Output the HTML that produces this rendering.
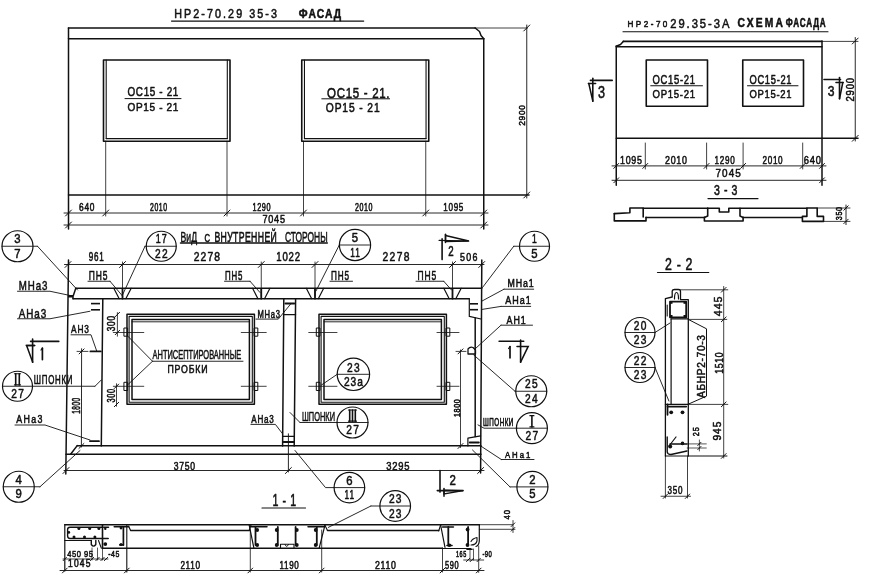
<!DOCTYPE html>
<html><head><meta charset="utf-8"><style>
html,body{margin:0;padding:0;background:#fff;}
body{width:872px;height:577px;overflow:hidden;}
svg{display:block;filter:grayscale(1);}
text{font-family:"Liberation Sans",sans-serif;fill:#111;}
</style></head><body>
<svg width="872" height="577" viewBox="0 0 872 577" stroke-linecap="round" stroke-linejoin="round">
<text transform="translate(174.20,18.30) scale(0.850,1)" x="0" y="0" font-size="12.64" textLength="120.94" lengthAdjust="spacing" font-weight="normal" stroke="#111" stroke-width="0.5" vector-effect="non-scaling-stroke">НР2-70.29 35-3</text>
<text transform="translate(298.80,18.30) scale(0.817,1)" x="0" y="0" font-size="12.64" textLength="51.89" lengthAdjust="spacing" font-weight="bold" stroke="#111" stroke-width="0.5" vector-effect="non-scaling-stroke">ФАСАД</text>
<polyline points="171.50,21.10 363.70,21.10" fill="none" stroke="#111" stroke-width="1.2"/>
<polyline points="68.50,28.00 475.00,28.00" fill="none" stroke="#111" stroke-width="1.6"/>
<polyline points="475.00,28.00 527.50,28.00" fill="none" stroke="#111" stroke-width="0.8"/>
<polyline points="475.20,28.00 479.50,31.50 481.00,35.50 483.75,38.75" fill="none" stroke="#111" stroke-width="1.5"/>
<polyline points="68.50,38.75 483.75,38.75" fill="none" stroke="#111" stroke-width="1.5"/>
<polyline points="68.50,28.00 68.50,229.00" fill="none" stroke="#111" stroke-width="1.5"/>
<polyline points="483.75,38.75 483.75,229.00" fill="none" stroke="#111" stroke-width="1.5"/>
<polyline points="68.50,195.00 529.00,195.00" fill="none" stroke="#111" stroke-width="1.5"/>
<polyline points="526.75,25.00 526.75,198.00" fill="none" stroke="#111" stroke-width="0.9"/>
<polyline points="523.75,31.00 529.75,25.00" fill="none" stroke="#111" stroke-width="1.0"/>
<polyline points="523.75,198.00 529.75,192.00" fill="none" stroke="#111" stroke-width="1.0"/>
<text transform="translate(524.80,125.80) rotate(-90) scale(0.866,1)" x="0" y="0" font-size="9.72" textLength="24.03" lengthAdjust="spacing" font-weight="normal" stroke="#111" stroke-width="0.5" vector-effect="non-scaling-stroke">2900</text>
<rect x="103.50" y="60.00" width="126.50" height="81.20" fill="none" stroke="#111" stroke-width="1.6"/>
<polyline points="106.20,60.00 106.20,138.60" fill="none" stroke="#111" stroke-width="1.1"/>
<polyline points="227.30,60.00 227.30,138.60" fill="none" stroke="#111" stroke-width="1.1"/>
<polyline points="106.20,138.60 227.30,138.60" fill="none" stroke="#111" stroke-width="1.1"/>
<rect x="301.75" y="60.00" width="127.00" height="81.20" fill="none" stroke="#111" stroke-width="1.6"/>
<polyline points="304.45,60.00 304.45,138.60" fill="none" stroke="#111" stroke-width="1.1"/>
<polyline points="426.05,60.00 426.05,138.60" fill="none" stroke="#111" stroke-width="1.1"/>
<polyline points="304.45,138.60 426.05,138.60" fill="none" stroke="#111" stroke-width="1.1"/>
<text transform="translate(127.50,96.00) scale(0.794,1)" x="0" y="0" font-size="12.50" textLength="64.07" lengthAdjust="spacing" font-weight="normal" stroke="#111" stroke-width="0.5" vector-effect="non-scaling-stroke">ОС15 - 21</text>
<polyline points="125.00,98.60 181.00,98.60" fill="none" stroke="#111" stroke-width="1.0"/>
<text transform="translate(127.50,110.50) scale(0.850,1)" x="0" y="0" font-size="11.81" textLength="59.88" lengthAdjust="spacing" font-weight="normal" stroke="#111" stroke-width="0.5" vector-effect="non-scaling-stroke">ОР15 - 21</text>
<text transform="translate(327.00,97.60) scale(0.829,1)" x="0" y="0" font-size="13.89" textLength="75.48" lengthAdjust="spacing" font-weight="normal" stroke="#111" stroke-width="0.5" vector-effect="non-scaling-stroke">ОС15 - 21.</text>
<polyline points="321.80,98.80 389.60,98.80" fill="none" stroke="#111" stroke-width="1.0"/>
<text transform="translate(325.80,111.50) scale(0.850,1)" x="0" y="0" font-size="12.08" textLength="63.29" lengthAdjust="spacing" font-weight="normal" stroke="#111" stroke-width="0.5" vector-effect="non-scaling-stroke">ОР15 - 21</text>
<polyline points="105.70,141.20 105.70,216.00" fill="none" stroke="#111" stroke-width="0.8"/>
<polyline points="227.00,141.20 227.00,216.00" fill="none" stroke="#111" stroke-width="0.8"/>
<polyline points="303.50,141.20 303.50,216.00" fill="none" stroke="#111" stroke-width="0.8"/>
<polyline points="425.75,141.20 425.75,216.00" fill="none" stroke="#111" stroke-width="0.8"/>
<polyline points="64.00,213.00 488.00,213.00" fill="none" stroke="#111" stroke-width="0.9"/>
<polyline points="64.00,225.00 488.00,225.00" fill="none" stroke="#111" stroke-width="0.9"/>
<polyline points="65.50,216.00 71.50,210.00" fill="none" stroke="#111" stroke-width="1.0"/>
<polyline points="102.70,216.00 108.70,210.00" fill="none" stroke="#111" stroke-width="1.0"/>
<polyline points="224.00,216.00 230.00,210.00" fill="none" stroke="#111" stroke-width="1.0"/>
<polyline points="300.50,216.00 306.50,210.00" fill="none" stroke="#111" stroke-width="1.0"/>
<polyline points="422.75,216.00 428.75,210.00" fill="none" stroke="#111" stroke-width="1.0"/>
<polyline points="480.75,216.00 486.75,210.00" fill="none" stroke="#111" stroke-width="1.0"/>
<polyline points="65.50,228.00 71.50,222.00" fill="none" stroke="#111" stroke-width="1.0"/>
<polyline points="480.75,228.00 486.75,222.00" fill="none" stroke="#111" stroke-width="1.0"/>
<text transform="translate(79.00,210.50) scale(0.753,1)" x="0" y="0" font-size="11.11" textLength="20.60" lengthAdjust="spacing" font-weight="normal" stroke="#111" stroke-width="0.5" vector-effect="non-scaling-stroke">640</text>
<text transform="translate(150.00,210.50) scale(0.620,1)" x="0" y="0" font-size="11.11" textLength="27.42" lengthAdjust="spacing" font-weight="normal" stroke="#111" stroke-width="0.5" vector-effect="non-scaling-stroke">2010</text>
<text transform="translate(252.50,210.50) scale(0.699,1)" x="0" y="0" font-size="10.42" textLength="25.75" lengthAdjust="spacing" font-weight="normal" stroke="#111" stroke-width="0.5" vector-effect="non-scaling-stroke">1290</text>
<text transform="translate(355.00,210.50) scale(0.680,1)" x="0" y="0" font-size="10.42" textLength="25.75" lengthAdjust="spacing" font-weight="normal" stroke="#111" stroke-width="0.5" vector-effect="non-scaling-stroke">2010</text>
<text transform="translate(443.30,211.20) scale(0.728,1)" x="0" y="0" font-size="11.11" textLength="27.46" lengthAdjust="spacing" font-weight="normal" stroke="#111" stroke-width="0.5" vector-effect="non-scaling-stroke">1095</text>
<text transform="translate(262.50,223.00) scale(0.819,1)" x="0" y="0" font-size="11.11" textLength="27.46" lengthAdjust="spacing" font-weight="normal" stroke="#111" stroke-width="0.5" vector-effect="non-scaling-stroke">7045</text>
<text transform="translate(627.50,27.20) scale(0.850,1)" x="0" y="0" font-size="9.58" textLength="46.94" lengthAdjust="spacing" font-weight="normal" stroke="#111" stroke-width="0.5" vector-effect="non-scaling-stroke">НР2-70</text>
<text transform="translate(670.20,27.80) scale(0.850,1)" x="0" y="0" font-size="13.19" textLength="69.65" lengthAdjust="spacing" font-weight="normal" stroke="#111" stroke-width="0.5" vector-effect="non-scaling-stroke">29.35-3А</text>
<text transform="translate(737.60,27.20) scale(0.850,1)" x="0" y="0" font-size="12.08" textLength="53.41" lengthAdjust="spacing" font-weight="bold" stroke="#111" stroke-width="0.5" vector-effect="non-scaling-stroke">СХЕМА</text>
<text transform="translate(785.80,27.20) scale(0.673,1)" x="0" y="0" font-size="12.08" textLength="59.31" lengthAdjust="spacing" font-weight="bold" stroke="#111" stroke-width="0.5" vector-effect="non-scaling-stroke">ФАСАДА</text>
<polyline points="623.00,31.75 828.00,31.75" fill="none" stroke="#111" stroke-width="1.2"/>
<polyline points="623.30,41.40 822.00,41.40" fill="none" stroke="#111" stroke-width="1.6"/>
<polyline points="822.00,41.40 858.00,41.40" fill="none" stroke="#111" stroke-width="0.8"/>
<polyline points="623.30,41.40 620.50,44.50 616.25,46.25" fill="none" stroke="#111" stroke-width="1.5"/>
<polyline points="616.25,46.75 822.00,46.75" fill="none" stroke="#111" stroke-width="1.5"/>
<polyline points="616.25,46.00 616.25,185.30" fill="none" stroke="#111" stroke-width="1.5"/>
<polyline points="822.00,41.00 822.00,185.30" fill="none" stroke="#111" stroke-width="1.5"/>
<polyline points="616.25,138.30 858.00,138.30" fill="none" stroke="#111" stroke-width="1.5"/>
<polyline points="855.25,37.50 855.25,141.00" fill="none" stroke="#111" stroke-width="0.9"/>
<polyline points="852.25,44.00 858.25,38.00" fill="none" stroke="#111" stroke-width="1.0"/>
<polyline points="852.25,141.30 858.25,135.30" fill="none" stroke="#111" stroke-width="1.0"/>
<text transform="translate(854.00,101.50) rotate(-90) scale(0.913,1)" x="0" y="0" font-size="10.42" textLength="25.75" lengthAdjust="spacing" font-weight="normal" stroke="#111" stroke-width="0.5" vector-effect="non-scaling-stroke">2900</text>
<rect x="646.25" y="60.00" width="61.25" height="46.25" fill="none" stroke="#111" stroke-width="1.6"/>
<rect x="742.75" y="60.00" width="60.75" height="46.25" fill="none" stroke="#111" stroke-width="1.6"/>
<text transform="translate(652.50,83.75) scale(0.776,1)" x="0" y="0" font-size="12.15" textLength="54.79" lengthAdjust="spacing" font-weight="normal" stroke="#111" stroke-width="0.5" vector-effect="non-scaling-stroke">ОС15-21</text>
<polyline points="650.75,85.75 702.50,85.75" fill="none" stroke="#111" stroke-width="1.0"/>
<text transform="translate(652.50,97.50) scale(0.810,1)" x="0" y="0" font-size="11.81" textLength="52.50" lengthAdjust="spacing" font-weight="normal" stroke="#111" stroke-width="0.5" vector-effect="non-scaling-stroke">ОР15-21</text>
<text transform="translate(749.50,83.75) scale(0.767,1)" x="0" y="0" font-size="12.15" textLength="54.79" lengthAdjust="spacing" font-weight="normal" stroke="#111" stroke-width="0.5" vector-effect="non-scaling-stroke">ОС15-21</text>
<polyline points="747.50,85.75 798.00,85.75" fill="none" stroke="#111" stroke-width="1.0"/>
<text transform="translate(749.50,97.50) scale(0.800,1)" x="0" y="0" font-size="11.81" textLength="52.50" lengthAdjust="spacing" font-weight="normal" stroke="#111" stroke-width="0.5" vector-effect="non-scaling-stroke">ОР15-21</text>
<polyline points="590.40,80.40 612.20,80.40" fill="none" stroke="#111" stroke-width="1.6"/>
<polyline points="592.80,78.30 592.80,101.20" fill="none" stroke="#111" stroke-width="1.6"/>
<polyline points="588.40,83.50 595.60,83.50" fill="none" stroke="#111" stroke-width="1.6"/>
<polyline points="588.80,83.50 592.80,101.20" fill="none" stroke="#111" stroke-width="1.5"/>
<text transform="translate(598.00,98.40) scale(0.795,1)" x="0" y="0" font-size="15.83" font-weight="normal" stroke="#111" stroke-width="0.5" vector-effect="non-scaling-stroke">3</text>
<polyline points="824.00,79.50 840.50,79.50" fill="none" stroke="#111" stroke-width="1.6"/>
<polyline points="839.50,77.50 839.50,98.75" fill="none" stroke="#111" stroke-width="1.6"/>
<polyline points="836.00,82.50 843.20,82.50" fill="none" stroke="#111" stroke-width="1.6"/>
<polyline points="842.80,82.50 839.50,98.75" fill="none" stroke="#111" stroke-width="1.5"/>
<text transform="translate(827.75,96.00) scale(0.795,1)" x="0" y="0" font-size="15.28" font-weight="normal" stroke="#111" stroke-width="0.5" vector-effect="non-scaling-stroke">3</text>
<polyline points="645.30,143.00 645.30,169.00" fill="none" stroke="#111" stroke-width="0.8"/>
<polyline points="706.60,143.00 706.60,169.00" fill="none" stroke="#111" stroke-width="0.8"/>
<polyline points="743.10,143.00 743.10,169.00" fill="none" stroke="#111" stroke-width="0.8"/>
<polyline points="802.70,143.00 802.70,169.00" fill="none" stroke="#111" stroke-width="0.8"/>
<polyline points="612.00,165.90 826.00,165.90" fill="none" stroke="#111" stroke-width="0.9"/>
<polyline points="612.00,180.30 826.00,180.30" fill="none" stroke="#111" stroke-width="0.9"/>
<polyline points="613.75,168.40 618.75,163.40" fill="none" stroke="#111" stroke-width="1.0"/>
<polyline points="642.80,168.40 647.80,163.40" fill="none" stroke="#111" stroke-width="1.0"/>
<polyline points="704.10,168.40 709.10,163.40" fill="none" stroke="#111" stroke-width="1.0"/>
<polyline points="740.60,168.40 745.60,163.40" fill="none" stroke="#111" stroke-width="1.0"/>
<polyline points="800.20,168.40 805.20,163.40" fill="none" stroke="#111" stroke-width="1.0"/>
<polyline points="819.50,168.40 824.50,163.40" fill="none" stroke="#111" stroke-width="1.0"/>
<polyline points="613.75,182.80 618.75,177.80" fill="none" stroke="#111" stroke-width="1.0"/>
<polyline points="819.50,182.80 824.50,177.80" fill="none" stroke="#111" stroke-width="1.0"/>
<text transform="translate(620.00,163.50) scale(0.754,1)" x="0" y="0" font-size="11.81" textLength="29.18" lengthAdjust="spacing" font-weight="normal" stroke="#111" stroke-width="0.5" vector-effect="non-scaling-stroke">1095</text>
<text transform="translate(665.00,163.50) scale(0.754,1)" x="0" y="0" font-size="11.81" textLength="29.18" lengthAdjust="spacing" font-weight="normal" stroke="#111" stroke-width="0.5" vector-effect="non-scaling-stroke">2010</text>
<text transform="translate(714.60,163.50) scale(0.689,1)" x="0" y="0" font-size="11.81" textLength="29.18" lengthAdjust="spacing" font-weight="normal" stroke="#111" stroke-width="0.5" vector-effect="non-scaling-stroke">1290</text>
<text transform="translate(762.50,163.50) scale(0.689,1)" x="0" y="0" font-size="11.81" textLength="29.18" lengthAdjust="spacing" font-weight="normal" stroke="#111" stroke-width="0.5" vector-effect="non-scaling-stroke">2010</text>
<text transform="translate(803.70,163.50) scale(0.791,1)" x="0" y="0" font-size="11.81" textLength="21.88" lengthAdjust="spacing" font-weight="normal" stroke="#111" stroke-width="0.5" vector-effect="non-scaling-stroke">640</text>
<text transform="translate(715.60,177.00) scale(0.850,1)" x="0" y="0" font-size="11.67" textLength="29.53" lengthAdjust="spacing" font-weight="normal" stroke="#111" stroke-width="0.5" vector-effect="non-scaling-stroke">7045</text>
<text transform="translate(714.00,195.40) scale(0.750,1)" x="0" y="0" font-size="14.03" textLength="31.19" lengthAdjust="spacing" font-weight="normal" stroke="#111" stroke-width="0.5" vector-effect="non-scaling-stroke">3 - 3</text>
<polyline points="708.00,198.60 758.00,198.60" fill="none" stroke="#111" stroke-width="1.2"/>
<polyline points="614.30,213.60 629.90,212.80 629.90,208.00 643.20,208.00 643.20,216.90" fill="none" stroke="#111" stroke-width="1.6"/>
<polyline points="614.30,213.60 614.30,220.90 646.00,220.90 646.00,217.40" fill="none" stroke="#111" stroke-width="1.6"/>
<polyline points="643.20,208.20 707.70,208.20" fill="none" stroke="#111" stroke-width="1.5"/>
<polyline points="646.00,217.40 704.40,217.40" fill="none" stroke="#111" stroke-width="1.5"/>
<polyline points="704.40,217.40 704.40,221.00 743.10,221.00 743.10,217.40" fill="none" stroke="#111" stroke-width="1.6"/>
<polyline points="707.70,208.20 707.70,216.00 704.40,217.40" fill="none" stroke="#111" stroke-width="1.6"/>
<polyline points="707.70,208.20 719.30,208.20 719.30,212.00 728.80,212.00 728.80,208.20 740.00,208.20 740.00,216.00 743.10,217.40" fill="none" stroke="#111" stroke-width="1.6"/>
<polyline points="740.00,208.20 806.90,208.20" fill="none" stroke="#111" stroke-width="1.5"/>
<polyline points="743.10,217.40 802.40,217.40" fill="none" stroke="#111" stroke-width="1.5"/>
<polyline points="806.90,208.00 817.20,208.00 817.20,216.40 823.50,216.40 823.50,221.40 802.40,221.40 802.40,216.40 806.90,216.40 806.90,208.00" fill="none" stroke="#111" stroke-width="1.6"/>
<polyline points="817.20,208.00 850.00,208.00" fill="none" stroke="#111" stroke-width="0.8"/>
<polyline points="823.50,221.40 850.00,221.40" fill="none" stroke="#111" stroke-width="0.8"/>
<polyline points="846.00,205.00 846.00,224.60" fill="none" stroke="#111" stroke-width="0.9"/>
<polyline points="843.80,210.20 848.20,205.80" fill="none" stroke="#111" stroke-width="1.0"/>
<polyline points="843.80,223.60 848.20,219.20" fill="none" stroke="#111" stroke-width="1.0"/>
<text transform="translate(841.50,220.20) rotate(-90) scale(0.789,1)" x="0" y="0" font-size="9.03" textLength="16.73" lengthAdjust="spacing" font-weight="normal" stroke="#111" stroke-width="0.5" vector-effect="non-scaling-stroke">350</text>
<text transform="translate(180.50,241.60)" x="0" y="0" font-size="14.03" textLength="16.50" lengthAdjust="spacingAndGlyphs" font-weight="normal" stroke="#111" stroke-width="0.5" vector-effect="non-scaling-stroke">ВиД</text>
<text transform="translate(204.40,241.60) scale(0.721,1)" x="0" y="0" font-size="10.56" font-weight="normal" stroke="#111" stroke-width="0.5" vector-effect="non-scaling-stroke">С</text>
<text transform="translate(214.40,241.60) scale(0.620,1)" x="0" y="0" font-size="14.03" textLength="100.65" lengthAdjust="spacing" font-weight="normal" stroke="#111" stroke-width="0.5" vector-effect="non-scaling-stroke">ВНУТРЕННЕЙ</text>
<text transform="translate(285.00,241.60)" x="0" y="0" font-size="14.03" textLength="42.60" lengthAdjust="spacingAndGlyphs" font-weight="normal" stroke="#111" stroke-width="0.5" vector-effect="non-scaling-stroke">СТОРОНЫ</text>
<polyline points="180.50,243.00 327.30,243.00" fill="none" stroke="#111" stroke-width="1.5"/>
<polyline points="64.50,264.50 484.00,264.50" fill="none" stroke="#111" stroke-width="0.9"/>
<polyline points="65.00,267.50 71.00,261.50" fill="none" stroke="#111" stroke-width="1.0"/>
<polyline points="119.50,267.50 125.50,261.50" fill="none" stroke="#111" stroke-width="1.0"/>
<polyline points="258.25,267.50 264.25,261.50" fill="none" stroke="#111" stroke-width="1.0"/>
<polyline points="312.00,267.50 318.00,261.50" fill="none" stroke="#111" stroke-width="1.0"/>
<polyline points="449.50,267.50 455.50,261.50" fill="none" stroke="#111" stroke-width="1.0"/>
<polyline points="478.75,267.50 484.75,261.50" fill="none" stroke="#111" stroke-width="1.0"/>
<polyline points="122.50,262.00 122.50,296.00" fill="none" stroke="#111" stroke-width="0.8"/>
<polyline points="261.25,262.00 261.25,296.00" fill="none" stroke="#111" stroke-width="0.8"/>
<polyline points="315.00,262.00 315.00,296.00" fill="none" stroke="#111" stroke-width="0.8"/>
<polyline points="452.50,262.00 452.50,296.00" fill="none" stroke="#111" stroke-width="0.8"/>
<text transform="translate(88.75,261.25) scale(0.666,1)" x="0" y="0" font-size="12.15" textLength="22.53" lengthAdjust="spacing" font-weight="normal" stroke="#111" stroke-width="0.5" vector-effect="non-scaling-stroke">961</text>
<text transform="translate(193.75,261.25) scale(0.850,1)" x="0" y="0" font-size="12.15" textLength="30.88" lengthAdjust="spacing" font-weight="normal" stroke="#111" stroke-width="0.5" vector-effect="non-scaling-stroke">2278</text>
<text transform="translate(276.25,261.25) scale(0.791,1)" x="0" y="0" font-size="12.15" textLength="30.04" lengthAdjust="spacing" font-weight="normal" stroke="#111" stroke-width="0.5" vector-effect="non-scaling-stroke">1022</text>
<text transform="translate(382.50,261.25) scale(0.850,1)" x="0" y="0" font-size="12.15" textLength="31.76" lengthAdjust="spacing" font-weight="normal" stroke="#111" stroke-width="0.5" vector-effect="non-scaling-stroke">2278</text>
<text transform="translate(460.00,261.25) scale(0.850,1)" x="0" y="0" font-size="10.42" textLength="20.59" lengthAdjust="spacing" font-weight="normal" stroke="#111" stroke-width="0.5" vector-effect="non-scaling-stroke">506</text>
<polyline points="68.50,260.00 65.80,474.00" fill="none" stroke="#111" stroke-width="1.5"/>
<polyline points="481.80,260.00 480.60,473.00" fill="none" stroke="#111" stroke-width="1.5"/>
<polyline points="76.00,288.30 481.75,288.30" fill="none" stroke="#111" stroke-width="1.5"/>
<polyline points="75.80,288.30 73.00,296.60 73.00,298.70" fill="none" stroke="#111" stroke-width="1.5"/>
<polyline points="73.00,298.70 469.30,298.70" fill="none" stroke="#111" stroke-width="1.5"/>
<rect x="68.00" y="295.00" width="5.00" height="2.50" fill="#111"/>
<polyline points="113.80,288.30 119.20,298.70" fill="none" stroke="#111" stroke-width="1.2"/>
<polyline points="131.20,288.30 125.80,298.70" fill="none" stroke="#111" stroke-width="1.2"/>
<polyline points="122.50,289.00 122.50,298.70" fill="none" stroke="#111" stroke-width="1.8"/>
<polyline points="252.55,288.30 257.95,298.70" fill="none" stroke="#111" stroke-width="1.2"/>
<polyline points="269.95,288.30 264.55,298.70" fill="none" stroke="#111" stroke-width="1.2"/>
<polyline points="261.25,289.00 261.25,298.70" fill="none" stroke="#111" stroke-width="1.8"/>
<polyline points="306.30,288.30 311.70,298.70" fill="none" stroke="#111" stroke-width="1.2"/>
<polyline points="323.70,288.30 318.30,298.70" fill="none" stroke="#111" stroke-width="1.2"/>
<polyline points="315.00,289.00 315.00,298.70" fill="none" stroke="#111" stroke-width="1.8"/>
<polyline points="443.80,288.30 449.20,298.70" fill="none" stroke="#111" stroke-width="1.2"/>
<polyline points="461.20,288.30 455.80,298.70" fill="none" stroke="#111" stroke-width="1.2"/>
<polyline points="452.50,289.00 452.50,298.70" fill="none" stroke="#111" stroke-width="1.8"/>
<polyline points="102.80,298.70 101.30,446.00" fill="none" stroke="#111" stroke-width="1.5"/>
<rect x="91.00" y="302.80" width="9.00" height="1.60" fill="#111"/>
<rect x="91.00" y="309.00" width="9.00" height="1.60" fill="#111"/>
<polyline points="469.30,299.00 469.30,316.40 481.00,319.00" fill="none" stroke="#111" stroke-width="1.2"/>
<rect x="470.00" y="303.00" width="8.00" height="1.60" fill="#111"/>
<rect x="470.00" y="308.90" width="8.00" height="1.60" fill="#111"/>
<polyline points="475.20,318.00 475.20,436.50" fill="none" stroke="#111" stroke-width="1.5"/>
<polyline points="467.90,446.00 467.90,438.20 480.60,435.80" fill="none" stroke="#111" stroke-width="1.2"/>
<polyline points="469.80,442.60 478.80,442.60" fill="none" stroke="#111" stroke-width="2.0"/>
<polyline points="283.80,298.70 282.60,446.00" fill="none" stroke="#111" stroke-width="1.5"/>
<polyline points="295.60,298.70 294.20,446.00" fill="none" stroke="#111" stroke-width="1.5"/>
<polyline points="283.80,314.60 295.60,314.60" fill="none" stroke="#111" stroke-width="1.2"/>
<polyline points="285.50,303.50 294.20,303.50" fill="none" stroke="#111" stroke-width="2.0"/>
<polyline points="282.80,436.40 294.20,436.40" fill="none" stroke="#111" stroke-width="1.1"/>
<polyline points="283.50,442.10 294.00,442.10" fill="none" stroke="#111" stroke-width="2.0"/>
<polyline points="288.40,433.80 288.40,472.00" fill="none" stroke="#111" stroke-width="0.9"/>
<polyline points="77.20,445.80 481.00,445.80" fill="none" stroke="#111" stroke-width="1.5"/>
<polyline points="77.20,445.60 70.60,454.20" fill="none" stroke="#111" stroke-width="1.5"/>
<polyline points="66.00,454.30 481.00,454.30" fill="none" stroke="#111" stroke-width="1.5"/>
<polyline points="64.00,470.50 484.00,470.50" fill="none" stroke="#111" stroke-width="0.9"/>
<polyline points="63.00,473.50 69.00,467.50" fill="none" stroke="#111" stroke-width="1.0"/>
<polyline points="285.40,473.50 291.40,467.50" fill="none" stroke="#111" stroke-width="1.0"/>
<polyline points="477.60,473.50 483.60,467.50" fill="none" stroke="#111" stroke-width="1.0"/>
<text transform="translate(173.75,469.50) scale(0.825,1)" x="0" y="0" font-size="10.42" textLength="25.75" lengthAdjust="spacing" font-weight="normal" stroke="#111" stroke-width="0.5" vector-effect="non-scaling-stroke">3750</text>
<text transform="translate(386.25,469.50) scale(0.847,1)" x="0" y="0" font-size="11.11" textLength="27.46" lengthAdjust="spacing" font-weight="normal" stroke="#111" stroke-width="0.5" vector-effect="non-scaling-stroke">3295</text>
<rect x="127.00" y="314.20" width="127.40" height="90.10" fill="none" stroke="#111" stroke-width="1.5"/>
<rect x="129.10" y="316.40" width="123.20" height="85.90" fill="none" stroke="#111" stroke-width="1.1"/>
<rect x="132.00" y="319.50" width="117.40" height="79.90" fill="none" stroke="#111" stroke-width="1.5"/>
<polyline points="132.00,321.80 249.40,321.80" fill="none" stroke="#111" stroke-width="0.9"/>
<rect x="319.00" y="314.20" width="127.40" height="90.10" fill="none" stroke="#111" stroke-width="1.5"/>
<rect x="321.10" y="316.40" width="123.20" height="85.90" fill="none" stroke="#111" stroke-width="1.1"/>
<rect x="324.00" y="319.50" width="117.40" height="79.90" fill="none" stroke="#111" stroke-width="1.5"/>
<polyline points="324.00,321.80 441.40,321.80" fill="none" stroke="#111" stroke-width="0.9"/>
<rect x="124.30" y="328.00" width="3.30" height="8.20" fill="none" stroke="#111" stroke-width="1.0"/>
<rect x="124.30" y="382.30" width="3.30" height="8.20" fill="none" stroke="#111" stroke-width="1.0"/>
<rect x="254.50" y="328.00" width="3.30" height="8.20" fill="none" stroke="#111" stroke-width="1.0"/>
<rect x="254.50" y="382.30" width="3.30" height="8.20" fill="none" stroke="#111" stroke-width="1.0"/>
<rect x="316.70" y="328.00" width="3.30" height="8.20" fill="none" stroke="#111" stroke-width="1.0"/>
<rect x="316.70" y="382.30" width="3.30" height="8.20" fill="none" stroke="#111" stroke-width="1.0"/>
<rect x="446.40" y="328.00" width="3.40" height="8.20" fill="none" stroke="#111" stroke-width="1.0"/>
<rect x="446.40" y="382.30" width="3.40" height="8.20" fill="none" stroke="#111" stroke-width="1.0"/>
<polyline points="113.30,332.50 143.80,332.50" fill="none" stroke="#111" stroke-width="0.8"/>
<polyline points="113.30,386.30 143.80,386.30" fill="none" stroke="#111" stroke-width="0.8"/>
<polyline points="241.25,332.50 266.25,332.50" fill="none" stroke="#111" stroke-width="0.8"/>
<polyline points="241.25,386.30 266.25,386.30" fill="none" stroke="#111" stroke-width="0.8"/>
<polyline points="308.75,332.50 337.00,332.50" fill="none" stroke="#111" stroke-width="0.8"/>
<polyline points="308.75,386.30 337.00,386.30" fill="none" stroke="#111" stroke-width="0.8"/>
<polyline points="437.00,332.50 459.00,332.50" fill="none" stroke="#111" stroke-width="0.8"/>
<polyline points="437.00,386.30 459.00,386.30" fill="none" stroke="#111" stroke-width="0.8"/>
<polyline points="117.40,312.60 117.40,336.20" fill="none" stroke="#111" stroke-width="0.8"/>
<polyline points="115.20,316.70 119.60,312.30" fill="none" stroke="#111" stroke-width="1.0"/>
<polyline points="115.20,334.70 119.60,330.30" fill="none" stroke="#111" stroke-width="1.0"/>
<text transform="translate(115.30,331.30) rotate(-90) scale(0.716,1)" x="0" y="0" font-size="11.53" textLength="21.37" lengthAdjust="spacing" font-weight="normal" stroke="#111" stroke-width="0.5" vector-effect="non-scaling-stroke">300</text>
<polyline points="116.50,383.75 116.50,406.25" fill="none" stroke="#111" stroke-width="0.8"/>
<polyline points="114.30,388.50 118.70,384.10" fill="none" stroke="#111" stroke-width="1.0"/>
<polyline points="114.30,406.70 118.70,402.30" fill="none" stroke="#111" stroke-width="1.0"/>
<text transform="translate(115.00,402.50) rotate(-90) scale(0.712,1)" x="0" y="0" font-size="10.42" textLength="19.31" lengthAdjust="spacing" font-weight="normal" stroke="#111" stroke-width="0.5" vector-effect="non-scaling-stroke">300</text>
<polyline points="81.60,348.75 81.40,447.00" fill="none" stroke="#111" stroke-width="0.9"/>
<polyline points="79.10,353.90 84.10,348.90" fill="none" stroke="#111" stroke-width="1.0"/>
<polyline points="78.90,448.50 83.90,443.50" fill="none" stroke="#111" stroke-width="1.0"/>
<polyline points="77.00,351.40 88.00,351.40" fill="none" stroke="#111" stroke-width="0.8"/>
<text transform="translate(80.10,413.80) rotate(-90) scale(0.639,1)" x="0" y="0" font-size="10.14" textLength="25.06" lengthAdjust="spacing" font-weight="normal" stroke="#111" stroke-width="0.5" vector-effect="non-scaling-stroke">1800</text>
<polyline points="460.50,350.00 460.50,447.50" fill="none" stroke="#111" stroke-width="0.8"/>
<polyline points="458.00,353.90 463.00,348.90" fill="none" stroke="#111" stroke-width="1.0"/>
<polyline points="458.00,448.50 463.00,443.50" fill="none" stroke="#111" stroke-width="1.0"/>
<polyline points="456.00,351.40 466.00,351.40" fill="none" stroke="#111" stroke-width="0.8"/>
<text transform="translate(460.00,417.00) rotate(-90) scale(0.827,1)" x="0" y="0" font-size="8.68" textLength="21.45" lengthAdjust="spacing" font-weight="normal" stroke="#111" stroke-width="0.5" vector-effect="non-scaling-stroke">1800</text>
<polyline points="90.40,351.40 100.80,351.40" fill="none" stroke="#111" stroke-width="1.8"/>
<polyline points="90.00,441.20 99.00,441.20" fill="none" stroke="#111" stroke-width="1.8"/>
<circle cx="17.50" cy="246.25" r="15.50" fill="none" stroke="#111" stroke-width="1.2"/>
<polyline points="2.00,246.25 37.50,246.25" fill="none" stroke="#111" stroke-width="0.9"/>
<text transform="translate(14.35,243.45) scale(0.887,1)" x="0" y="0" font-size="12.78" font-weight="normal" stroke="#111" stroke-width="0.5" vector-effect="non-scaling-stroke">3</text>
<text transform="translate(14.35,257.75) scale(0.877,1)" x="0" y="0" font-size="12.92" font-weight="normal" stroke="#111" stroke-width="0.5" vector-effect="non-scaling-stroke">7</text>
<polyline points="37.50,246.25 77.50,290.00" fill="none" stroke="#111" stroke-width="0.9"/>
<circle cx="161.25" cy="246.25" r="15.00" fill="none" stroke="#111" stroke-width="1.2"/>
<polyline points="145.00,246.25 176.25,246.25" fill="none" stroke="#111" stroke-width="0.9"/>
<text transform="translate(155.70,243.45) scale(0.703,1)" x="0" y="0" font-size="12.78" textLength="15.79" lengthAdjust="spacing" font-weight="normal" stroke="#111" stroke-width="0.5" vector-effect="non-scaling-stroke">17</text>
<text transform="translate(154.95,257.75) scale(0.789,1)" x="0" y="0" font-size="12.92" textLength="15.96" lengthAdjust="spacing" font-weight="normal" stroke="#111" stroke-width="0.5" vector-effect="non-scaling-stroke">22</text>
<polyline points="145.00,246.25 122.50,295.00" fill="none" stroke="#111" stroke-width="0.9"/>
<circle cx="355.00" cy="245.00" r="15.60" fill="none" stroke="#111" stroke-width="1.2"/>
<polyline points="339.30,245.00 370.60,245.00" fill="none" stroke="#111" stroke-width="0.9"/>
<text transform="translate(351.85,242.20) scale(0.887,1)" x="0" y="0" font-size="12.78" font-weight="normal" stroke="#111" stroke-width="0.5" vector-effect="non-scaling-stroke">5</text>
<text transform="translate(350.20,256.50) scale(0.644,1)" x="0" y="0" font-size="12.92" textLength="14.90" lengthAdjust="spacing" font-weight="normal" stroke="#111" stroke-width="0.5" vector-effect="non-scaling-stroke">11</text>
<polyline points="339.30,245.00 316.00,291.00" fill="none" stroke="#111" stroke-width="0.9"/>
<circle cx="534.50" cy="246.25" r="15.00" fill="none" stroke="#111" stroke-width="1.2"/>
<polyline points="513.75,246.25 549.50,246.25" fill="none" stroke="#111" stroke-width="0.9"/>
<text transform="translate(532.10,243.45) scale(0.676,1)" x="0" y="0" font-size="12.78" font-weight="normal" stroke="#111" stroke-width="0.5" vector-effect="non-scaling-stroke">1</text>
<text transform="translate(531.35,257.75) scale(0.877,1)" x="0" y="0" font-size="12.92" font-weight="normal" stroke="#111" stroke-width="0.5" vector-effect="non-scaling-stroke">5</text>
<polyline points="513.75,246.25 482.50,287.50" fill="none" stroke="#111" stroke-width="0.9"/>
<text transform="translate(88.75,280.00) scale(0.695,1)" x="0" y="0" font-size="12.15" textLength="26.97" lengthAdjust="spacing" font-weight="normal" stroke="#111" stroke-width="0.5" vector-effect="non-scaling-stroke">ПН5</text>
<polyline points="88.00,281.25 110.00,281.25" fill="none" stroke="#111" stroke-width="0.9"/>
<polyline points="110.00,281.25 122.50,296.00" fill="none" stroke="#111" stroke-width="0.9"/>
<text transform="translate(225.00,280.00) scale(0.649,1)" x="0" y="0" font-size="12.15" textLength="26.97" lengthAdjust="spacing" font-weight="normal" stroke="#111" stroke-width="0.5" vector-effect="non-scaling-stroke">ПН5</text>
<polyline points="224.50,281.25 250.00,281.25" fill="none" stroke="#111" stroke-width="0.9"/>
<polyline points="250.00,281.25 260.00,292.50" fill="none" stroke="#111" stroke-width="0.9"/>
<text transform="translate(331.00,280.00) scale(0.668,1)" x="0" y="0" font-size="12.15" textLength="26.97" lengthAdjust="spacing" font-weight="normal" stroke="#111" stroke-width="0.5" vector-effect="non-scaling-stroke">ПН5</text>
<polyline points="330.00,281.25 352.50,281.25" fill="none" stroke="#111" stroke-width="0.9"/>
<text transform="translate(417.50,280.00) scale(0.695,1)" x="0" y="0" font-size="12.15" textLength="26.97" lengthAdjust="spacing" font-weight="normal" stroke="#111" stroke-width="0.5" vector-effect="non-scaling-stroke">ПН5</text>
<polyline points="416.00,281.25 443.75,281.25" fill="none" stroke="#111" stroke-width="0.9"/>
<polyline points="443.75,281.25 451.50,290.00" fill="none" stroke="#111" stroke-width="0.9"/>
<text transform="translate(18.75,290.00) scale(0.776,1)" x="0" y="0" font-size="12.50" textLength="37.05" lengthAdjust="spacing" font-weight="normal" stroke="#111" stroke-width="0.5" vector-effect="non-scaling-stroke">МНа3</text>
<polyline points="17.50,291.25 50.00,291.25 72.50,296.00" fill="none" stroke="#111" stroke-width="0.9"/>
<text transform="translate(18.75,317.50) scale(0.814,1)" x="0" y="0" font-size="12.15" textLength="33.78" lengthAdjust="spacing" font-weight="normal" stroke="#111" stroke-width="0.5" vector-effect="non-scaling-stroke">АНа3</text>
<polyline points="17.50,318.75 50.00,318.75 90.00,311.25" fill="none" stroke="#111" stroke-width="0.9"/>
<text transform="translate(71.00,333.00) scale(0.705,1)" x="0" y="0" font-size="11.81" textLength="25.52" lengthAdjust="spacing" font-weight="normal" stroke="#111" stroke-width="0.5" vector-effect="non-scaling-stroke">АН3</text>
<polyline points="71.00,334.80 91.00,334.80 96.60,350.70" fill="none" stroke="#111" stroke-width="0.9"/>
<polyline points="30.60,341.40 58.80,341.40" fill="none" stroke="#111" stroke-width="1.6"/>
<polyline points="32.60,339.10 32.60,362.20" fill="none" stroke="#111" stroke-width="1.6"/>
<path d="M34.6,345.6 L26.6,345.6 L32.7,362.2" fill="none" stroke="#111" stroke-width="1.5" stroke-linejoin="miter"/>
<polyline points="26.40,345.50 34.60,345.50" fill="none" stroke="#111" stroke-width="1.6"/>
<polyline points="42.40,348.20 42.40,359.60" fill="none" stroke="#111" stroke-width="1.7"/>
<polyline points="41.00,350.00 42.40,348.20" fill="none" stroke="#111" stroke-width="1.2"/>
<circle cx="17.50" cy="386.25" r="15.00" fill="none" stroke="#111" stroke-width="1.2"/>
<polyline points="2.50,386.25 95.00,386.25" fill="none" stroke="#111" stroke-width="0.9"/>
<polyline points="14.50,373.75 20.50,373.75" fill="none" stroke="#111" stroke-width="1.2"/>
<polyline points="14.50,384.95 20.50,384.95" fill="none" stroke="#111" stroke-width="1.2"/>
<polyline points="15.70,373.75 15.70,384.95" fill="none" stroke="#111" stroke-width="1.6"/>
<polyline points="19.30,373.75 19.30,384.95" fill="none" stroke="#111" stroke-width="1.6"/>
<text transform="translate(11.20,397.75) scale(0.789,1)" x="0" y="0" font-size="12.92" textLength="15.96" lengthAdjust="spacing" font-weight="normal" stroke="#111" stroke-width="0.5" vector-effect="non-scaling-stroke">27</text>
<polyline points="95.00,386.25 101.25,380.00" fill="none" stroke="#111" stroke-width="0.9"/>
<text transform="translate(33.75,383.75) scale(0.647,1)" x="0" y="0" font-size="12.15" textLength="59.91" lengthAdjust="spacing" font-weight="normal" stroke="#111" stroke-width="0.5" vector-effect="non-scaling-stroke">ШПОНКИ</text>
<text transform="translate(16.25,422.50) scale(0.850,1)" x="0" y="0" font-size="10.42" textLength="30.88" lengthAdjust="spacing" font-weight="normal" stroke="#111" stroke-width="0.5" vector-effect="non-scaling-stroke">АНа3</text>
<polyline points="15.00,425.00 45.00,425.00 90.00,440.00" fill="none" stroke="#111" stroke-width="0.9"/>
<circle cx="18.75" cy="486.75" r="15.50" fill="none" stroke="#111" stroke-width="1.2"/>
<polyline points="3.25,486.75 40.00,486.75" fill="none" stroke="#111" stroke-width="0.9"/>
<text transform="translate(15.60,483.95) scale(0.887,1)" x="0" y="0" font-size="12.78" font-weight="normal" stroke="#111" stroke-width="0.5" vector-effect="non-scaling-stroke">4</text>
<text transform="translate(15.60,498.25) scale(0.877,1)" x="0" y="0" font-size="12.92" font-weight="normal" stroke="#111" stroke-width="0.5" vector-effect="non-scaling-stroke">9</text>
<polyline points="40.00,486.75 80.00,450.50" fill="none" stroke="#111" stroke-width="0.9"/>
<text transform="translate(152.50,358.75)" x="0" y="0" font-size="12.15" textLength="88.75" lengthAdjust="spacingAndGlyphs" font-weight="normal" stroke="#111" stroke-width="0.5" vector-effect="non-scaling-stroke">АНТИСЕПТИРОВАННЫЕ</text>
<polyline points="152.50,361.25 243.00,361.25" fill="none" stroke="#111" stroke-width="0.9"/>
<polyline points="152.50,361.25 127.80,336.20" fill="none" stroke="#111" stroke-width="0.9"/>
<polyline points="152.50,361.25 127.50,385.00" fill="none" stroke="#111" stroke-width="0.9"/>
<text transform="translate(167.50,372.50) scale(0.843,1)" x="0" y="0" font-size="10.42" textLength="47.44" lengthAdjust="spacing" font-weight="normal" stroke="#111" stroke-width="0.5" vector-effect="non-scaling-stroke">ПРОБКИ</text>
<text transform="translate(257.50,318.00) scale(0.739,1)" x="0" y="0" font-size="10.28" textLength="30.46" lengthAdjust="spacing" font-weight="normal" stroke="#111" stroke-width="0.5" vector-effect="non-scaling-stroke">МНа3</text>
<polyline points="256.00,319.10 278.30,319.10 290.50,304.20" fill="none" stroke="#111" stroke-width="0.9"/>
<circle cx="353.40" cy="374.30" r="16.20" fill="none" stroke="#111" stroke-width="1.2"/>
<polyline points="337.20,374.30 369.60,374.30" fill="none" stroke="#111" stroke-width="0.9"/>
<text transform="translate(347.10,371.50) scale(0.798,1)" x="0" y="0" font-size="12.78" textLength="15.79" lengthAdjust="spacing" font-weight="normal" stroke="#111" stroke-width="0.5" vector-effect="non-scaling-stroke">23</text>
<text transform="translate(343.95,385.80) scale(0.789,1)" x="0" y="0" font-size="12.92" textLength="23.94" lengthAdjust="spacing" font-weight="normal" stroke="#111" stroke-width="0.5" vector-effect="non-scaling-stroke">23а</text>
<polyline points="337.20,374.30 321.60,384.90" fill="none" stroke="#111" stroke-width="0.9"/>
<text transform="translate(251.25,422.80) scale(0.747,1)" x="0" y="0" font-size="10.83" textLength="30.11" lengthAdjust="spacing" font-weight="normal" stroke="#111" stroke-width="0.5" vector-effect="non-scaling-stroke">АНа3</text>
<polyline points="250.90,424.40 275.40,424.40 282.60,433.80" fill="none" stroke="#111" stroke-width="0.9"/>
<text transform="translate(302.00,421.25)" x="0" y="0" font-size="12.15" textLength="33.00" lengthAdjust="spacingAndGlyphs" font-weight="normal" stroke="#111" stroke-width="0.5" vector-effect="non-scaling-stroke">ШПОНКИ</text>
<polyline points="300.00,422.50 337.50,422.50" fill="none" stroke="#111" stroke-width="0.9"/>
<polyline points="300.00,422.50 290.00,412.50" fill="none" stroke="#111" stroke-width="0.9"/>
<circle cx="352.50" cy="422.50" r="15.50" fill="none" stroke="#111" stroke-width="1.2"/>
<polyline points="337.00,422.50 368.00,422.50" fill="none" stroke="#111" stroke-width="0.9"/>
<polyline points="348.50,410.00 356.50,410.00" fill="none" stroke="#111" stroke-width="1.2"/>
<polyline points="348.50,421.20 356.50,421.20" fill="none" stroke="#111" stroke-width="1.2"/>
<polyline points="349.70,410.00 349.70,421.20" fill="none" stroke="#111" stroke-width="1.6"/>
<polyline points="352.50,410.00 352.50,421.20" fill="none" stroke="#111" stroke-width="1.6"/>
<polyline points="355.30,410.00 355.30,421.20" fill="none" stroke="#111" stroke-width="1.6"/>
<text transform="translate(346.20,434.00) scale(0.789,1)" x="0" y="0" font-size="12.92" textLength="15.96" lengthAdjust="spacing" font-weight="normal" stroke="#111" stroke-width="0.5" vector-effect="non-scaling-stroke">27</text>
<circle cx="349.40" cy="487.60" r="15.30" fill="none" stroke="#111" stroke-width="1.2"/>
<polyline points="334.00,487.60 364.70,487.60" fill="none" stroke="#111" stroke-width="0.9"/>
<text transform="translate(346.25,484.80) scale(0.887,1)" x="0" y="0" font-size="12.78" font-weight="normal" stroke="#111" stroke-width="0.5" vector-effect="non-scaling-stroke">6</text>
<text transform="translate(344.60,499.10) scale(0.644,1)" x="0" y="0" font-size="12.92" textLength="14.90" lengthAdjust="spacing" font-weight="normal" stroke="#111" stroke-width="0.5" vector-effect="non-scaling-stroke">11</text>
<polyline points="334.00,487.60 325.50,487.60 295.00,450.50" fill="none" stroke="#111" stroke-width="0.9"/>
<text transform="translate(507.60,286.60) scale(0.845,1)" x="0" y="0" font-size="10.42" textLength="30.87" lengthAdjust="spacing" font-weight="normal" stroke="#111" stroke-width="0.5" vector-effect="non-scaling-stroke">МНа1</text>
<polyline points="504.00,289.20 533.70,289.20" fill="none" stroke="#111" stroke-width="0.9"/>
<polyline points="504.00,289.20 482.10,301.00" fill="none" stroke="#111" stroke-width="0.9"/>
<text transform="translate(505.20,304.30) scale(0.850,1)" x="0" y="0" font-size="10.56" textLength="30.00" lengthAdjust="spacing" font-weight="normal" stroke="#111" stroke-width="0.5" vector-effect="non-scaling-stroke">АНа1</text>
<polyline points="501.00,306.40 530.70,306.40" fill="none" stroke="#111" stroke-width="0.9"/>
<polyline points="501.00,306.40 482.10,309.40" fill="none" stroke="#111" stroke-width="0.9"/>
<text transform="translate(506.40,323.60) scale(0.850,1)" x="0" y="0" font-size="10.42" textLength="22.82" lengthAdjust="spacing" font-weight="normal" stroke="#111" stroke-width="0.5" vector-effect="non-scaling-stroke">АН1</text>
<polyline points="501.00,325.20 532.50,325.20" fill="none" stroke="#111" stroke-width="0.9"/>
<polyline points="501.00,325.20 475.00,349.00" fill="none" stroke="#111" stroke-width="0.9"/>
<polyline points="499.10,341.20 523.70,341.20" fill="none" stroke="#111" stroke-width="1.6"/>
<polyline points="520.60,340.00 520.60,362.20" fill="none" stroke="#111" stroke-width="1.6"/>
<path d="M517,346.4 L528.2,346.4 L520.6,362.2" fill="none" stroke="#111" stroke-width="1.5" stroke-linejoin="miter"/>
<polyline points="510.00,346.60 510.00,357.80" fill="none" stroke="#111" stroke-width="1.7"/>
<polyline points="508.60,348.50 510.00,346.60" fill="none" stroke="#111" stroke-width="1.2"/>
<path d="M468,354 L468,349 Q470,346.5 473,347.5 L475.5,350 L475.5,354 Z" fill="none" stroke="#111" stroke-width="1.3"/>
<circle cx="531.25" cy="391.25" r="15.50" fill="none" stroke="#111" stroke-width="1.2"/>
<polyline points="515.00,391.25 546.75,391.25" fill="none" stroke="#111" stroke-width="0.9"/>
<text transform="translate(524.95,388.45) scale(0.798,1)" x="0" y="0" font-size="12.78" textLength="15.79" lengthAdjust="spacing" font-weight="normal" stroke="#111" stroke-width="0.5" vector-effect="non-scaling-stroke">25</text>
<text transform="translate(524.95,402.75) scale(0.789,1)" x="0" y="0" font-size="12.92" textLength="15.96" lengthAdjust="spacing" font-weight="normal" stroke="#111" stroke-width="0.5" vector-effect="non-scaling-stroke">24</text>
<polyline points="515.00,391.25 473.75,355.00" fill="none" stroke="#111" stroke-width="0.9"/>
<text transform="translate(483.00,426.10) scale(0.620,1)" x="0" y="0" font-size="10.14" textLength="49.03" lengthAdjust="spacing" font-weight="normal" stroke="#111" stroke-width="0.5" vector-effect="non-scaling-stroke">ШПОНКИ</text>
<polyline points="478.00,424.90 484.00,428.20 517.00,428.20" fill="none" stroke="#111" stroke-width="0.9"/>
<circle cx="531.90" cy="428.20" r="15.50" fill="none" stroke="#111" stroke-width="1.2"/>
<polyline points="516.40,428.20 547.40,428.20" fill="none" stroke="#111" stroke-width="0.9"/>
<polyline points="529.90,415.70 533.90,415.70" fill="none" stroke="#111" stroke-width="1.2"/>
<polyline points="529.90,426.90 533.90,426.90" fill="none" stroke="#111" stroke-width="1.2"/>
<polyline points="531.90,415.70 531.90,426.90" fill="none" stroke="#111" stroke-width="1.6"/>
<text transform="translate(525.60,439.70) scale(0.789,1)" x="0" y="0" font-size="12.92" textLength="15.96" lengthAdjust="spacing" font-weight="normal" stroke="#111" stroke-width="0.5" vector-effect="non-scaling-stroke">27</text>
<text transform="translate(504.90,457.60) scale(0.850,1)" x="0" y="0" font-size="9.17" textLength="30.00" lengthAdjust="spacing" font-weight="normal" stroke="#111" stroke-width="0.5" vector-effect="non-scaling-stroke">АНа1</text>
<polyline points="501.30,459.50 534.00,459.50" fill="none" stroke="#111" stroke-width="0.9"/>
<polyline points="501.30,459.50 480.00,445.50" fill="none" stroke="#111" stroke-width="0.9"/>
<circle cx="532.40" cy="486.90" r="15.50" fill="none" stroke="#111" stroke-width="1.2"/>
<polyline points="510.00,486.90 547.90,486.90" fill="none" stroke="#111" stroke-width="0.9"/>
<text transform="translate(529.25,484.10) scale(0.887,1)" x="0" y="0" font-size="12.78" font-weight="normal" stroke="#111" stroke-width="0.5" vector-effect="non-scaling-stroke">2</text>
<text transform="translate(529.25,498.40) scale(0.877,1)" x="0" y="0" font-size="12.92" font-weight="normal" stroke="#111" stroke-width="0.5" vector-effect="non-scaling-stroke">5</text>
<polyline points="510.00,486.90 472.50,450.00" fill="none" stroke="#111" stroke-width="0.9"/>
<polyline points="442.10,238.90 442.10,259.60" fill="none" stroke="#111" stroke-width="1.6"/>
<polyline points="439.10,240.40 468.80,241.00" fill="none" stroke="#111" stroke-width="1.2"/>
<path d="M445.5,235.5 L468.8,241 L445.5,241.5 Z" fill="none" stroke="#111" stroke-width="1.4" stroke-linejoin="miter"/>
<polyline points="445.50,234.30 445.50,242.50" fill="none" stroke="#111" stroke-width="1.5"/>
<text transform="translate(448.20,255.60) scale(0.679,1)" x="0" y="0" font-size="14.31" font-weight="normal" stroke="#111" stroke-width="0.5" vector-effect="non-scaling-stroke">2</text>
<polyline points="440.00,470.50 440.00,492.10" fill="none" stroke="#111" stroke-width="1.6"/>
<polyline points="437.30,490.60 463.10,490.60" fill="none" stroke="#111" stroke-width="1.6"/>
<path d="M444,490.3 L463.1,490.6 L444,493.9 Z" fill="none" stroke="#111" stroke-width="1.4" stroke-linejoin="miter"/>
<polyline points="444.00,488.50 444.00,496.30" fill="none" stroke="#111" stroke-width="1.5"/>
<text transform="translate(449.40,484.80) scale(0.760,1)" x="0" y="0" font-size="15.14" font-weight="normal" stroke="#111" stroke-width="0.5" vector-effect="non-scaling-stroke">2</text>
<text transform="translate(272.50,505.50) scale(0.669,1)" x="0" y="0" font-size="15.97" textLength="35.51" lengthAdjust="spacing" font-weight="normal" stroke="#111" stroke-width="0.5" vector-effect="non-scaling-stroke">1 - 1</text>
<polyline points="262.00,508.00 305.50,508.00" fill="none" stroke="#111" stroke-width="1.2"/>
<circle cx="395.20" cy="506.00" r="15.30" fill="none" stroke="#111" stroke-width="1.2"/>
<polyline points="370.90,506.00 410.50,506.00" fill="none" stroke="#111" stroke-width="0.9"/>
<text transform="translate(388.90,503.20) scale(0.798,1)" x="0" y="0" font-size="12.78" textLength="15.79" lengthAdjust="spacing" font-weight="normal" stroke="#111" stroke-width="0.5" vector-effect="non-scaling-stroke">23</text>
<text transform="translate(388.90,517.50) scale(0.789,1)" x="0" y="0" font-size="12.92" textLength="15.96" lengthAdjust="spacing" font-weight="normal" stroke="#111" stroke-width="0.5" vector-effect="non-scaling-stroke">23</text>
<polyline points="370.90,506.00 328.30,527.40" fill="none" stroke="#111" stroke-width="0.9"/>
<polyline points="64.80,524.70 479.30,524.70" fill="none" stroke="#111" stroke-width="1.5"/>
<polyline points="479.30,524.70 512.40,524.70" fill="none" stroke="#111" stroke-width="0.8"/>
<polyline points="479.30,529.30 515.00,529.30" fill="none" stroke="#111" stroke-width="0.8"/>
<polyline points="64.80,524.70 64.80,571.00" fill="none" stroke="#111" stroke-width="1.2"/>
<polyline points="64.80,540.50 91.30,540.50" fill="none" stroke="#111" stroke-width="1.2"/>
<path d="M102.3,527.2 L70,527.2 Q67.6,527.2 67.6,529.6 L67.6,536.1 Q67.6,538.5 70,538.5 L102.3,538.5" fill="none" stroke="#111" stroke-width="1.4"/>
<circle cx="78.90" cy="528.40" r="1.50" fill="#111"/>
<circle cx="89.70" cy="528.40" r="1.50" fill="#111"/>
<circle cx="98.90" cy="528.40" r="1.50" fill="#111"/>
<circle cx="74.00" cy="536.90" r="1.50" fill="#111"/>
<circle cx="84.50" cy="536.90" r="1.50" fill="#111"/>
<circle cx="94.90" cy="536.90" r="1.50" fill="#111"/>
<circle cx="68.80" cy="532.40" r="1.40" fill="#111"/>
<path d="M91.3,540.5 L91.3,544.5 Q93.5,547.8 95.8,544.5 L95.8,540.5" fill="none" stroke="#111" stroke-width="1.4"/>
<polyline points="102.50,524.70 102.50,548.50" fill="none" stroke="#111" stroke-width="1.6"/>
<polyline points="98.50,540.50 101.30,548.10" fill="none" stroke="#111" stroke-width="1.1"/>
<polyline points="102.50,548.30 442.50,548.30" fill="none" stroke="#111" stroke-width="1.5"/>
<polyline points="103.70,527.20 108.50,527.20" fill="none" stroke="#111" stroke-width="1.5"/>
<circle cx="105.30" cy="528.80" r="1.20" fill="#111"/>
<polyline points="102.50,538.50 108.20,538.50" fill="none" stroke="#111" stroke-width="1.5"/>
<circle cx="105.30" cy="544.10" r="1.90" fill="#111"/>
<polyline points="114.20,526.80 128.60,526.80" fill="none" stroke="#111" stroke-width="1.5"/>
<polyline points="123.40,526.80 123.40,544.90" fill="none" stroke="#111" stroke-width="1.7"/>
<polyline points="119.80,544.90 123.40,544.90" fill="none" stroke="#111" stroke-width="1.6"/>
<circle cx="121.00" cy="528.00" r="1.40" fill="#111"/>
<circle cx="121.00" cy="544.50" r="1.50" fill="#111"/>
<polyline points="126.80,524.70 126.80,572.00" fill="none" stroke="#111" stroke-width="1.1"/>
<polyline points="128.60,526.20 130.60,530.50" fill="none" stroke="#111" stroke-width="1.2"/>
<polyline points="130.60,530.50 249.20,530.50" fill="none" stroke="#111" stroke-width="1.5"/>
<polyline points="249.20,530.50 251.00,525.00" fill="none" stroke="#111" stroke-width="1.1"/>
<polyline points="249.20,525.20 253.80,547.70" fill="none" stroke="#111" stroke-width="1.2"/>
<polyline points="324.90,525.30 319.10,548.30" fill="none" stroke="#111" stroke-width="1.2"/>
<polyline points="324.90,525.30 327.50,530.50" fill="none" stroke="#111" stroke-width="1.1"/>
<polyline points="327.50,530.50 438.70,530.50" fill="none" stroke="#111" stroke-width="1.5"/>
<polyline points="250.30,530.00 250.30,572.00" fill="none" stroke="#111" stroke-width="0.8"/>
<polyline points="321.70,530.00 321.70,572.00" fill="none" stroke="#111" stroke-width="0.8"/>
<polyline points="255.50,527.00 255.50,545.00" fill="none" stroke="#111" stroke-width="1.8"/>
<circle cx="257.20" cy="530.00" r="1.90" fill="#111"/>
<circle cx="257.20" cy="545.00" r="1.90" fill="#111"/>
<polyline points="251.00,526.80 267.00,526.80" fill="none" stroke="#111" stroke-width="1.5"/>
<polyline points="277.80,527.00 277.80,545.00" fill="none" stroke="#111" stroke-width="1.8"/>
<circle cx="276.70" cy="530.00" r="1.90" fill="#111"/>
<circle cx="276.70" cy="545.00" r="1.90" fill="#111"/>
<polyline points="295.60,527.00 295.60,545.00" fill="none" stroke="#111" stroke-width="1.8"/>
<circle cx="296.80" cy="530.00" r="1.90" fill="#111"/>
<circle cx="296.80" cy="545.00" r="1.90" fill="#111"/>
<polyline points="316.80,527.00 316.80,545.00" fill="none" stroke="#111" stroke-width="1.8"/>
<circle cx="315.70" cy="530.00" r="1.90" fill="#111"/>
<circle cx="315.70" cy="545.00" r="1.90" fill="#111"/>
<polyline points="308.00,526.80 324.00,526.80" fill="none" stroke="#111" stroke-width="1.5"/>
<path d="M280.5,548.3 L280.5,544.2 L294,544.2 L294,548.3" fill="none" stroke="#111" stroke-width="1.1"/>
<path d="M285,544.5 Q286.5,548.5 288.5,544.5" fill="none" stroke="#111" stroke-width="1.0"/>
<polyline points="438.70,531.00 440.60,525.00" fill="none" stroke="#111" stroke-width="1.1"/>
<polyline points="440.60,525.00 445.00,547.40" fill="none" stroke="#111" stroke-width="1.2"/>
<polyline points="442.60,527.00 453.40,527.00" fill="none" stroke="#111" stroke-width="1.6"/>
<polyline points="448.30,527.00 448.30,545.50" fill="none" stroke="#111" stroke-width="1.8"/>
<circle cx="449.50" cy="545.30" r="1.80" fill="#111"/>
<polyline points="447.00,545.50 452.00,545.50" fill="none" stroke="#111" stroke-width="1.6"/>
<polyline points="468.10,527.00 468.10,545.00" fill="none" stroke="#111" stroke-width="1.8"/>
<circle cx="467.60" cy="529.50" r="1.90" fill="#111"/>
<circle cx="467.50" cy="545.00" r="1.90" fill="#111"/>
<path d="M471,545 Q476,545 477,541 L477,537.5 Q472.5,538.5 471,541.5" fill="none" stroke="#111" stroke-width="1.1"/>
<path d="M479.3,524.7 L479.3,541 Q479,545.5 476,546.5" fill="none" stroke="#111" stroke-width="1.2"/>
<polyline points="470.60,548.50 442.50,548.50" fill="none" stroke="#111" stroke-width="1.2"/>
<polyline points="467.00,549.30 472.00,549.30" fill="none" stroke="#111" stroke-width="1.6"/>
<polyline points="478.70,546.00 478.70,572.40" fill="none" stroke="#111" stroke-width="0.8"/>
<polyline points="442.50,548.00 442.50,572.00" fill="none" stroke="#111" stroke-width="0.8"/>
<polyline points="513.00,520.50 513.00,532.50" fill="none" stroke="#111" stroke-width="0.8"/>
<polyline points="511.20,526.50 514.80,522.90" fill="none" stroke="#111" stroke-width="1.0"/>
<polyline points="511.20,531.10 514.80,527.50" fill="none" stroke="#111" stroke-width="1.0"/>
<text transform="translate(510.00,519.40) rotate(-90) scale(0.843,1)" x="0" y="0" font-size="9.03" textLength="11.16" lengthAdjust="spacing" font-weight="normal" stroke="#111" stroke-width="0.5" vector-effect="non-scaling-stroke">40</text>
<polyline points="63.00,559.00 108.00,559.00" fill="none" stroke="#111" stroke-width="0.8"/>
<polyline points="60.00,570.50 484.00,570.50" fill="none" stroke="#111" stroke-width="0.9"/>
<polyline points="463.70,560.00 483.70,560.00" fill="none" stroke="#111" stroke-width="0.8"/>
<polyline points="62.40,572.90 67.20,568.10" fill="none" stroke="#111" stroke-width="1.0"/>
<polyline points="124.40,572.90 129.20,568.10" fill="none" stroke="#111" stroke-width="1.0"/>
<polyline points="247.90,572.90 252.70,568.10" fill="none" stroke="#111" stroke-width="1.0"/>
<polyline points="319.30,572.90 324.10,568.10" fill="none" stroke="#111" stroke-width="1.0"/>
<polyline points="440.10,572.90 444.90,568.10" fill="none" stroke="#111" stroke-width="1.0"/>
<polyline points="476.30,572.90 481.10,568.10" fill="none" stroke="#111" stroke-width="1.0"/>
<polyline points="63.20,560.60 66.40,557.40" fill="none" stroke="#111" stroke-width="1.0"/>
<polyline points="90.40,560.60 93.60,557.40" fill="none" stroke="#111" stroke-width="1.0"/>
<polyline points="95.90,560.60 99.10,557.40" fill="none" stroke="#111" stroke-width="1.0"/>
<polyline points="100.90,560.60 104.10,557.40" fill="none" stroke="#111" stroke-width="1.0"/>
<polyline points="104.40,560.60 107.60,557.40" fill="none" stroke="#111" stroke-width="1.0"/>
<polyline points="466.40,561.60 469.60,558.40" fill="none" stroke="#111" stroke-width="1.0"/>
<polyline points="470.20,561.60 473.40,558.40" fill="none" stroke="#111" stroke-width="1.0"/>
<polyline points="477.10,561.60 480.30,558.40" fill="none" stroke="#111" stroke-width="1.0"/>
<polyline points="92.00,548.00 92.00,560.00" fill="none" stroke="#111" stroke-width="0.7"/>
<polyline points="97.50,548.00 97.50,560.00" fill="none" stroke="#111" stroke-width="0.7"/>
<polyline points="102.50,548.50 102.50,560.00" fill="none" stroke="#111" stroke-width="0.7"/>
<text transform="translate(67.20,556.60) scale(0.825,1)" x="0" y="0" font-size="9.17" textLength="31.15" lengthAdjust="spacing" font-weight="normal" stroke="#111" stroke-width="0.5" vector-effect="non-scaling-stroke">450 95</text>
<text transform="translate(108.20,556.60) scale(0.761,1)" x="0" y="0" font-size="9.17" textLength="14.72" lengthAdjust="spacing" font-weight="normal" stroke="#111" stroke-width="0.5" vector-effect="non-scaling-stroke">-45</text>
<text transform="translate(68.00,567.00) scale(0.850,1)" x="0" y="0" font-size="10.00" textLength="26.47" lengthAdjust="spacing" font-weight="normal" stroke="#111" stroke-width="0.5" vector-effect="non-scaling-stroke">1045</text>
<text transform="translate(180.40,569.00) scale(0.738,1)" x="0" y="0" font-size="11.11" textLength="26.55" lengthAdjust="spacing" font-weight="normal" stroke="#111" stroke-width="0.5" vector-effect="non-scaling-stroke">2110</text>
<text transform="translate(279.50,569.00) scale(0.725,1)" x="0" y="0" font-size="11.11" textLength="26.55" lengthAdjust="spacing" font-weight="normal" stroke="#111" stroke-width="0.5" vector-effect="non-scaling-stroke">1190</text>
<text transform="translate(375.00,569.00) scale(0.791,1)" x="0" y="0" font-size="11.11" textLength="26.55" lengthAdjust="spacing" font-weight="normal" stroke="#111" stroke-width="0.5" vector-effect="non-scaling-stroke">2110</text>
<text transform="translate(445.00,569.30) scale(0.729,1)" x="0" y="0" font-size="10.14" textLength="18.79" lengthAdjust="spacing" font-weight="normal" stroke="#111" stroke-width="0.5" vector-effect="non-scaling-stroke">590</text>
<text transform="translate(456.00,557.40) scale(0.639,1)" x="0" y="0" font-size="8.61" textLength="15.96" lengthAdjust="spacing" font-weight="normal" stroke="#111" stroke-width="0.5" vector-effect="non-scaling-stroke">165</text>
<text transform="translate(482.40,556.80) scale(0.680,1)" x="0" y="0" font-size="8.61" textLength="13.83" lengthAdjust="spacing" font-weight="normal" stroke="#111" stroke-width="0.5" vector-effect="non-scaling-stroke">-90</text>
<polyline points="470.00,549.00 470.00,560.00" fill="none" stroke="#111" stroke-width="0.7"/>
<polyline points="473.50,549.00 473.50,560.00" fill="none" stroke="#111" stroke-width="0.7"/>
<text transform="translate(665.00,270.00) scale(0.792,1)" x="0" y="0" font-size="15.62" textLength="34.74" lengthAdjust="spacing" font-weight="normal" stroke="#111" stroke-width="0.5" vector-effect="non-scaling-stroke">2 - 2</text>
<polyline points="657.50,272.50 708.75,272.50" fill="none" stroke="#111" stroke-width="1.2"/>
<path d="M665.4,456 L665.4,298.6 L672.2,297 L672.2,291 Q672.5,289.5 674.5,289.5 L678.5,289.5 Q680.5,289.5 680.5,291.5 L680.5,299.6 L688.3,299.6 L688.3,456" fill="none" stroke="#111" stroke-width="1.3"/>
<path d="M674.5,299 Q674.5,292.5 676.5,292.5 Q678.5,292.5 678.5,299" fill="none" stroke="#111" stroke-width="1.2"/>
<rect x="670.00" y="301.70" width="16.20" height="15.60" fill="none" stroke="#111" stroke-width="1.8"/>
<rect x="670.00" y="301.30" width="2.50" height="2.50" fill="#111"/>
<rect x="683.50" y="301.30" width="2.70" height="2.50" fill="#111"/>
<rect x="670.00" y="315.00" width="2.50" height="2.60" fill="#111"/>
<rect x="683.50" y="315.00" width="2.70" height="2.60" fill="#111"/>
<polyline points="671.10,318.90 688.30,318.90" fill="none" stroke="#111" stroke-width="1.2"/>
<polyline points="671.10,318.90 671.10,404.40" fill="none" stroke="#111" stroke-width="1.2"/>
<polyline points="667.20,305.00 667.20,316.00" fill="none" stroke="#111" stroke-width="1.1"/>
<polyline points="680.50,289.80 727.80,289.80" fill="none" stroke="#111" stroke-width="0.8"/>
<polyline points="688.30,319.40 726.80,319.40" fill="none" stroke="#111" stroke-width="0.8"/>
<polyline points="688.30,319.40 706.50,328.80 706.50,396.10 687.80,404.40" fill="none" stroke="#111" stroke-width="1.0"/>
<polyline points="665.40,404.40 687.80,404.40" fill="none" stroke="#111" stroke-width="1.2"/>
<polyline points="687.80,404.40 727.80,404.40" fill="none" stroke="#111" stroke-width="0.8"/>
<polyline points="665.40,456.00 727.00,456.00" fill="none" stroke="#111" stroke-width="1.0"/>
<polyline points="665.40,456.00 665.40,498.00" fill="none" stroke="#111" stroke-width="0.8"/>
<polyline points="687.50,456.00 687.50,498.00" fill="none" stroke="#111" stroke-width="0.8"/>
<polyline points="723.70,286.50 723.70,458.00" fill="none" stroke="#111" stroke-width="0.8"/>
<polyline points="721.30,292.20 726.10,287.40" fill="none" stroke="#111" stroke-width="1.0"/>
<polyline points="721.30,321.80 726.10,317.00" fill="none" stroke="#111" stroke-width="1.0"/>
<polyline points="721.30,406.80 726.10,402.00" fill="none" stroke="#111" stroke-width="1.0"/>
<polyline points="721.30,458.40 726.10,453.60" fill="none" stroke="#111" stroke-width="1.0"/>
<text transform="translate(721.60,316.30) rotate(-90) scale(1.050,1)" x="0" y="0" font-size="10.14" textLength="18.86" lengthAdjust="spacing" font-weight="normal" stroke="#111" stroke-width="0.5" vector-effect="non-scaling-stroke">445</text>
<text transform="translate(722.50,373.75) rotate(-90) scale(0.825,1)" x="0" y="0" font-size="10.42" textLength="25.75" lengthAdjust="spacing" font-weight="normal" stroke="#111" stroke-width="0.5" vector-effect="non-scaling-stroke">1510</text>
<text transform="translate(720.90,440.50) rotate(-90) scale(0.948,1)" x="0" y="0" font-size="10.69" textLength="19.82" lengthAdjust="spacing" font-weight="normal" stroke="#111" stroke-width="0.5" vector-effect="non-scaling-stroke">945</text>
<text transform="translate(704.50,398.00) rotate(-90) scale(1.012,1)" x="0" y="0" font-size="10.00" textLength="62.25" lengthAdjust="spacing" font-weight="normal" stroke="#111" stroke-width="0.5" vector-effect="non-scaling-stroke">АБНР2-70-3</text>
<polyline points="667.50,404.40 667.50,414.80" fill="none" stroke="#111" stroke-width="1.8"/>
<polyline points="667.50,406.60 686.20,406.60" fill="none" stroke="#111" stroke-width="1.8"/>
<circle cx="671.20" cy="412.30" r="1.90" fill="#111"/>
<circle cx="682.50" cy="412.30" r="1.90" fill="#111"/>
<path d="M667.2,437 L667.2,452 Q667.5,454.5 671,454.5 L687,451" fill="none" stroke="#111" stroke-width="1.4"/>
<polyline points="670.00,443.90 686.80,443.90" fill="none" stroke="#111" stroke-width="1.5"/>
<circle cx="670.20" cy="446.50" r="2.00" fill="#111"/>
<circle cx="682.50" cy="443.40" r="1.80" fill="#111"/>
<polyline points="669.00,446.00 676.00,437.00" fill="none" stroke="#111" stroke-width="1.2"/>
<polyline points="687.20,443.90 706.30,443.90" fill="none" stroke="#111" stroke-width="0.7"/>
<polyline points="687.20,448.00 706.30,448.00" fill="none" stroke="#111" stroke-width="0.7"/>
<polyline points="699.40,440.00 699.40,451.00" fill="none" stroke="#111" stroke-width="0.7"/>
<polyline points="697.80,445.50 701.00,442.30" fill="none" stroke="#111" stroke-width="1.0"/>
<polyline points="697.80,449.60 701.00,446.40" fill="none" stroke="#111" stroke-width="1.0"/>
<text transform="translate(699.40,436.30) rotate(-90) scale(0.749,1)" x="0" y="0" font-size="9.72" textLength="12.01" lengthAdjust="spacing" font-weight="normal" stroke="#111" stroke-width="0.5" vector-effect="non-scaling-stroke">25</text>
<polyline points="661.00,496.25 690.50,496.25" fill="none" stroke="#111" stroke-width="0.8"/>
<polyline points="663.20,498.45 667.60,494.05" fill="none" stroke="#111" stroke-width="1.0"/>
<polyline points="685.30,498.45 689.70,494.05" fill="none" stroke="#111" stroke-width="1.0"/>
<text transform="translate(667.50,494.00) scale(0.728,1)" x="0" y="0" font-size="11.11" textLength="20.60" lengthAdjust="spacing" font-weight="normal" stroke="#111" stroke-width="0.5" vector-effect="non-scaling-stroke">350</text>
<circle cx="640.00" cy="332.50" r="15.00" fill="none" stroke="#111" stroke-width="1.2"/>
<polyline points="625.00,332.50 655.00,332.50" fill="none" stroke="#111" stroke-width="0.9"/>
<text transform="translate(633.70,329.70) scale(0.798,1)" x="0" y="0" font-size="12.78" textLength="15.79" lengthAdjust="spacing" font-weight="normal" stroke="#111" stroke-width="0.5" vector-effect="non-scaling-stroke">20</text>
<text transform="translate(633.70,344.00) scale(0.789,1)" x="0" y="0" font-size="12.92" textLength="15.96" lengthAdjust="spacing" font-weight="normal" stroke="#111" stroke-width="0.5" vector-effect="non-scaling-stroke">23</text>
<polyline points="655.00,332.50 670.00,323.00" fill="none" stroke="#111" stroke-width="0.9"/>
<circle cx="640.00" cy="367.50" r="15.00" fill="none" stroke="#111" stroke-width="1.2"/>
<polyline points="625.00,367.50 655.00,367.50" fill="none" stroke="#111" stroke-width="0.9"/>
<text transform="translate(633.70,364.70) scale(0.798,1)" x="0" y="0" font-size="12.78" textLength="15.79" lengthAdjust="spacing" font-weight="normal" stroke="#111" stroke-width="0.5" vector-effect="non-scaling-stroke">22</text>
<text transform="translate(633.70,379.00) scale(0.789,1)" x="0" y="0" font-size="12.92" textLength="15.96" lengthAdjust="spacing" font-weight="normal" stroke="#111" stroke-width="0.5" vector-effect="non-scaling-stroke">23</text>
<polyline points="655.00,367.50 668.90,401.00" fill="none" stroke="#111" stroke-width="0.9"/>
</svg>
</body></html>
